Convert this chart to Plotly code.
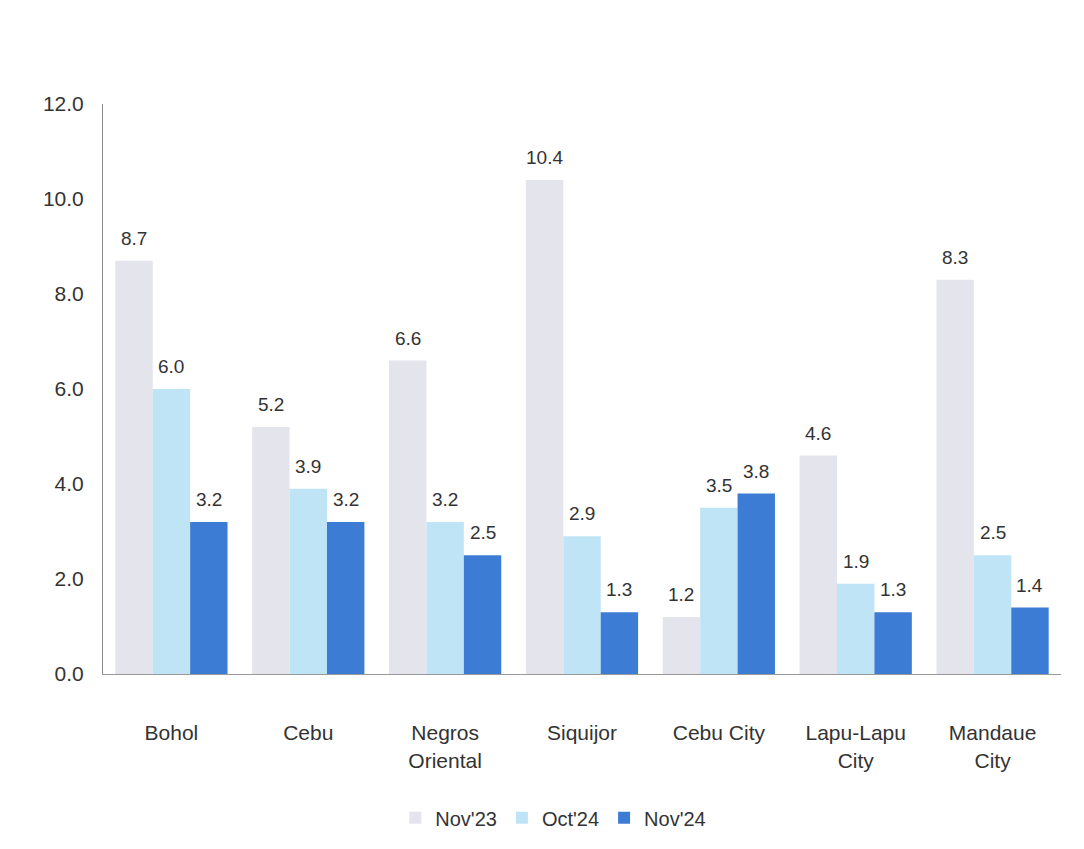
import plotly.graph_objects as go

categories = ["Bohol", "Cebu", "Negros<br>Oriental", "Siquijor", "Cebu City", "Lapu-Lapu<br>City", "Mandaue<br>City"]
nov23 = [8.7, 5.2, 6.6, 10.4, 1.2, 4.6, 8.3]
oct24 = [6.0, 3.9, 3.2, 2.9, 3.5, 1.9, 2.5]
nov24 = [3.2, 3.2, 2.5, 1.3, 3.8, 1.3, 1.4]
tick_vals = [0, 2, 4, 6, 8, 10, 12]
tick_text = ["0.0", "2.0", "4.0", "6.0", "8.0", "10.0", "12.0"]

series = [
    ("Nov'23", nov23, "#e4e4ec"),
    ("Oct'24", oct24, "#bfe4f6"),
    ("Nov'24", nov24, "#3d7cd4"),
]

W, H = 1084, 849
ML, MR, MT, MB = 103, 23, 104, 175
BARGAP = 0.18
plot_w = W - ML - MR
bar_px = plot_w / len(categories) * (1 - BARGAP) / len(series)

fig = go.Figure()
annotations = []
for i, (name, vals, color) in enumerate(series):
    fig.add_trace(go.Bar(
        x=categories, y=vals, name=name,
        marker=dict(color=color, line=dict(width=0)),
    ))
    shift = (i - (len(series) - 1) / 2) * bar_px
    for c, v in zip(categories, vals):
        annotations.append(dict(
            x=c, y=v, xref="x", yref="y", text=f"{v:.1f}", showarrow=False,
            xshift=shift, yshift=10, yanchor="bottom",
            font=dict(size=19, color="#333333"),
        ))

fig.update_layout(
    barmode="group", bargap=BARGAP, bargroupgap=0,
    width=W, height=H,
    margin=dict(l=ML, r=MR, t=MT, b=MB),
    paper_bgcolor="white", plot_bgcolor="white",
    font=dict(family="Liberation Sans, Arial, sans-serif", size=21, color="#333333"),
    legend=dict(orientation="h", x=0.47, xanchor="center", y=-0.218, yanchor="top",
                font=dict(size=20, color="#333333"), itemwidth=30),
    annotations=annotations,
    showlegend=True,
)
fig.update_yaxes(range=[0, 12], tickvals=tick_vals, ticktext=tick_text,
                 showgrid=False, showline=True, linecolor="#888888", linewidth=1,
                 ticks="", ticklabelstandoff=14, zeroline=False,
                 tickfont=dict(size=21))
fig.update_xaxes(showline=True, linecolor="#999999", linewidth=1, ticks="",
                 ticklabelstandoff=40, showgrid=False, tickfont=dict(size=21))

fig.write_html("out.html")
